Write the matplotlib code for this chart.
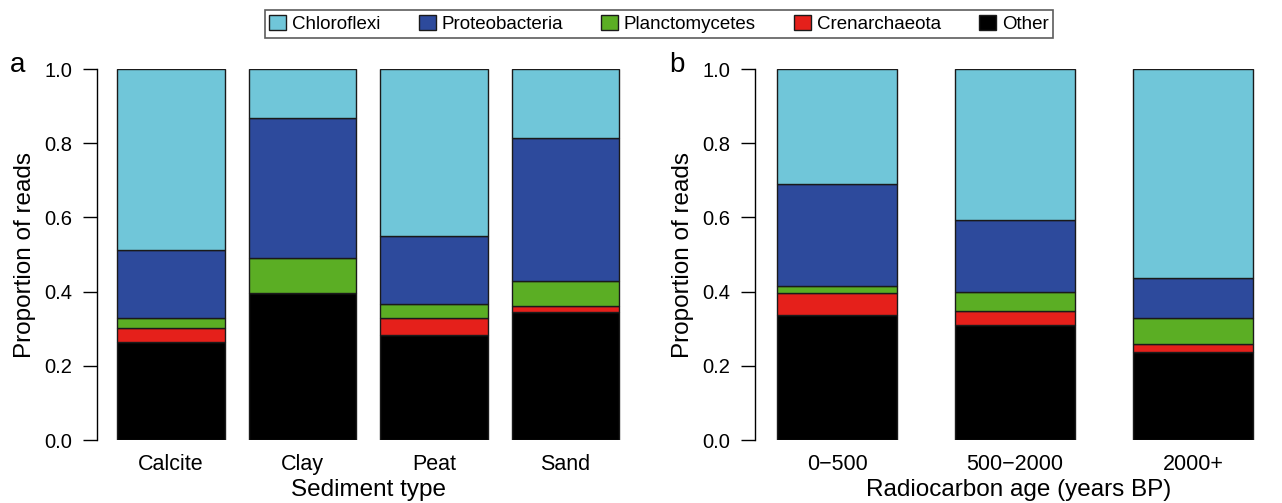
import matplotlib
matplotlib.use("Agg")
import matplotlib.pyplot as plt
from matplotlib.patches import Patch
import numpy as np

plt.rcParams['font.family'] = ['Liberation Sans', 'DejaVu Sans']

groups = ["Chloroflexi", "Proteobacteria", "Planctomycetes", "Crenarchaeota", "Other"]
colors = ["#70C6D9", "#2D4A9C", "#5BAE24", "#E5201B", "#000000"]

sediment = ["Calcite", "Clay", "Peat", "Sand"]
sed_other = [0.265, 0.396, 0.282, 0.346]
sed_cren = [0.038, 0.000, 0.046, 0.015]
sed_planct = [0.025, 0.095, 0.038, 0.067]
sed_proteo = [0.183, 0.376, 0.185, 0.386]
sed_chloro = [0.489, 0.133, 0.449, 0.186]

age = ["0\u2212500", "500\u22122000", "2000+"]
age_other = [0.338, 0.309, 0.237]
age_cren = [0.057, 0.040, 0.023]
age_planct = [0.021, 0.050, 0.069]
age_proteo = [0.275, 0.195, 0.109]
age_chloro = [0.309, 0.406, 0.562]

W, H = 1282, 503
fig = plt.figure(figsize=(W / 100, H / 100), dpi=100)

def px_axes(x0, x1, y_top, y_bot):
    return fig.add_axes([x0 / W, (H - y_bot) / H, (x1 - x0) / W, (y_bot - y_top) / H])

def draw(ax, cats, layers, width, xlim, xlabel, letter, letter_x):
    x = np.arange(len(cats))
    bottom = np.zeros(len(cats))
    # stack order bottom->top: Other, Cren, Planct, Proteo, Chloro
    order = [4, 3, 2, 1, 0]
    for idx in order:
        vals = np.array(layers[idx])
        ax.bar(x, vals, width, bottom=bottom, color=colors[idx],
               edgecolor="#1a1a1a", linewidth=1.0)
        bottom += vals
    ax.set_xlim(*xlim)
    ax.set_ylim(0, 1)
    for s in ["top", "right", "bottom"]:
        ax.spines[s].set_visible(False)
    ax.spines["left"].set_bounds(0, 1)
    ax.spines["left"].set_linewidth(1.0)
    ax.set_yticks([0, 0.2, 0.4, 0.6, 0.8, 1.0])
    ax.set_yticklabels(["0.0", "0.2", "0.4", "0.6", "0.8", "1.0"])
    ax.tick_params(axis="y", direction="out", length=10, width=1.0,
                   labelsize=14.5, pad=8)
    ax.set_xticks(x)
    ax.set_xticklabels(cats)
    ax.tick_params(axis="x", length=0, labelsize=15.5, pad=10)
    ax.set_xlabel(xlabel, fontsize=17.5, labelpad=3)
    ax.set_ylabel("Proportion of reads", fontsize=17.5, labelpad=6)
    fig.text(letter_x / W, (H - 72) / H, letter, fontsize=20, va="baseline", ha="left")

ax1 = px_axes(97, 640, 69, 440)
draw(ax1, sediment, [sed_chloro, sed_proteo, sed_planct, sed_cren, sed_other],
     0.82, (-0.563, 3.567), "Sediment type", "a", 10)

ax2 = px_axes(755, 1282, 69, 440)
draw(ax2, age, [age_chloro, age_proteo, age_planct, age_cren, age_other],
     0.674, (-0.461, 2.5), "Radiocarbon age (years BP)", "b", 669)

handles = [Patch(facecolor=c, edgecolor="#1a1a1a", linewidth=1.0) for c in colors]
leg = fig.legend(handles, groups, loc="center", bbox_to_anchor=(659 / W, (H - 24) / H),
                 ncol=5, fontsize=13.5, frameon=True, fancybox=False,
                 edgecolor="#333333", handlelength=0.9, handleheight=0.9,
                 handletextpad=0.3, columnspacing=2.05, borderpad=0.25)
leg.get_frame().set_linewidth(1.2)

fig.savefig("out.png", dpi=100)
